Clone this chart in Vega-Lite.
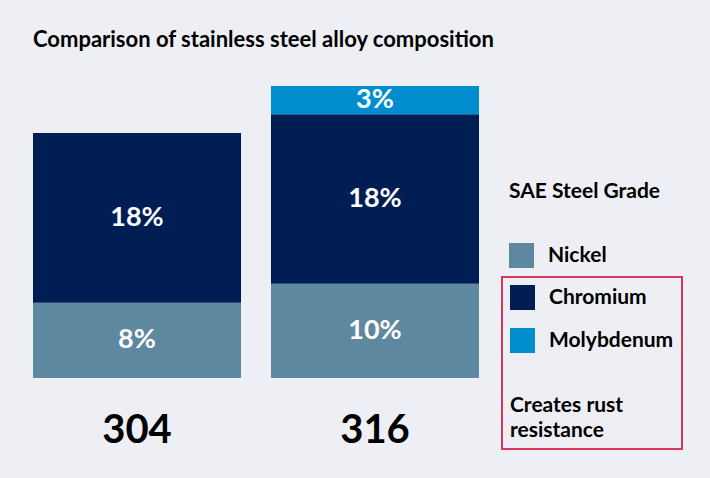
{
  "$schema": "https://vega.github.io/schema/vega-lite/v6.json",
  "width": 446,
  "height": 292,
  "autosize": {"type": "none"},
  "padding": {"left": 33, "top": 86, "right": 231, "bottom": 100},
  "background": "#eeeff4",
  "config": {
    "view": {"stroke": null},
    "font": "Lato",
    "legend": {"strokeWidth": 2}
  },
  "title": {
    "text": "Comparison of stainless steel alloy composition",
    "anchor": "start",
    "frame": "group",
    "fontSize": 22,
    "fontWeight": "bold",
    "color": "#000000",
    "offset": 34
  },
  "data": {
    "values": [
      {"grade": "304", "metal": "Nickel", "value": 8, "label": "8%", "order": 1},
      {"grade": "304", "metal": "Chromium", "value": 18, "label": "18%", "order": 2},
      {"grade": "316", "metal": "Nickel", "value": 10, "label": "10%", "order": 1},
      {"grade": "316", "metal": "Chromium", "value": 18, "label": "18%", "order": 2},
      {"grade": "316", "metal": "Molybdenum", "value": 3, "label": "3%", "order": 3}
    ]
  },
  "transform": [
    {"stack": "value", "groupby": ["grade"], "sort": [{"field": "order"}], "as": ["y0", "y1"]},
    {"calculate": "(datum.y0 + datum.y1) / 2", "as": "ymid"}
  ],
  "encoding": {
    "x": {
      "field": "grade",
      "type": "nominal",
      "sort": ["304", "316"],
      "scale": {"paddingInner": 0.126, "paddingOuter": 0},
      "axis": {
        "title": null,
        "domain": false,
        "ticks": false,
        "labelAngle": 0,
        "labelFontSize": 40,
        "labelFontWeight": "bold",
        "labelColor": "#000000",
        "labelPadding": 32,
        "labelBaseline": "top"
      }
    }
  },
  "layer": [
    {
      "transform": [{"filter": "datum.metal === 'Nickel'"}],
      "mark": {"type": "bar"},
      "encoding": {
        "y": {"field": "y0", "type": "quantitative", "scale": {"domain": [0, 31], "nice": false, "zero": true}, "axis": null},
        "y2": {"field": "y1"},
        "color": {
          "field": "metal",
          "type": "nominal",
          "scale": {"domain": ["Nickel"], "range": ["#5e87a0"]},
          "legend": {
            "title": "SAE Steel Grade",
            "orient": "none",
            "legendX": 469,
            "legendY": 88,
            "padding": 7,
            "titleFontSize": 21,
            "titleFontWeight": "bold",
            "titleColor": "#000000",
            "titlePadding": 41,
            "labelFontSize": 21,
            "labelFontWeight": "bold",
            "labelColor": "#000000",
            "labelOffset": 14,
            "symbolType": "square",
            "symbolSize": 625,
            "symbolStrokeWidth": 0,
            "symbolOpacity": 1
          }
        }
      }
    },
    {
      "transform": [{"filter": "datum.metal !== 'Nickel'"}],
      "mark": {"type": "bar"},
      "encoding": {
        "y": {"field": "y0", "type": "quantitative", "scale": {"domain": [0, 31], "nice": false, "zero": true}, "axis": null},
        "y2": {"field": "y1"},
        "color": {
          "field": "metal",
          "type": "nominal",
          "scale": {"domain": ["Chromium", "Molybdenum"], "range": ["#011e54", "#008dcd"]},
          "legend": {
            "title": ["Creates rust", "resistance"],
            "titleOrient": "bottom",
            "orient": "none",
            "legendX": 469,
            "legendY": 191,
            "padding": 8,
            "strokeColor": "#d4395c",
            "titleFontSize": 21,
            "titleFontWeight": "bold",
            "titleColor": "#000000",
            "titleLineHeight": 25,
            "titlePadding": 42,
            "labelFontSize": 21,
            "labelFontWeight": "bold",
            "labelColor": "#000000",
            "labelOffset": 14,
            "rowPadding": 18,
            "symbolType": "square",
            "symbolSize": 625,
            "symbolStrokeWidth": 0,
            "symbolOpacity": 1
          }
        }
      }
    },
    {
      "mark": {"type": "text", "color": "#ffffff", "fontSize": 27, "fontWeight": "bold", "baseline": "middle"},
      "encoding": {
        "y": {"field": "ymid", "type": "quantitative", "scale": {"domain": [0, 31], "nice": false, "zero": true}, "axis": null},
        "text": {"field": "label"}
      }
    }
  ],
  "resolve": {"scale": {"color": "independent"}}
}
